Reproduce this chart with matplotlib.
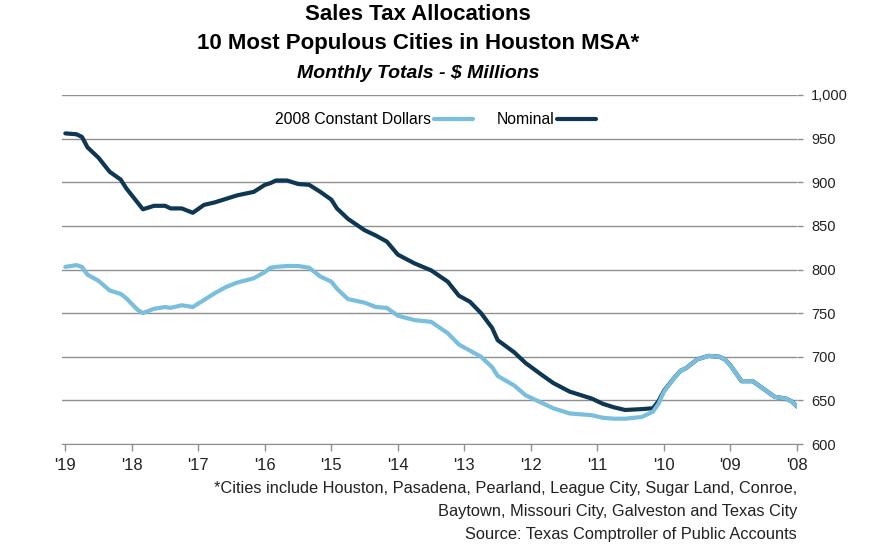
import numpy as np
import pandas as pd
import matplotlib
matplotlib.use("Agg")
import matplotlib.pyplot as plt

# ---------------------------
# data (monthly totals, $ millions)
# ---------------------------
months = [
    "2008-01", "2008-02", "2008-03", "2008-05", "2008-07", "2008-09", "2008-11", "2008-12",
    "2009-01", "2009-02", "2009-03", "2009-05", "2009-07", "2009-09", "2009-10", "2009-11",
    "2010-01", "2010-02", "2010-03", "2010-05", "2010-08", "2010-10", "2010-12",
    "2011-02", "2011-06", "2011-09", "2011-11",
    "2012-02", "2012-04", "2012-07", "2012-08", "2012-10", "2012-12",
    "2013-02", "2013-04", "2013-07", "2013-10",
    "2014-01", "2014-03", "2014-05", "2014-07", "2014-10", "2014-12",
    "2015-01", "2015-03", "2015-05", "2015-07", "2015-09", "2015-11", "2015-12",
    "2016-01", "2016-03", "2016-06", "2016-08", "2016-10", "2016-12",
    "2017-02", "2017-04", "2017-06", "2017-07", "2017-09", "2017-11", "2017-12",
    "2018-02", "2018-03", "2018-05", "2018-07", "2018-09", "2018-10", "2018-11",
    "2019-01",
]
nominal = [
    643, 649, 652, 654, 663, 672, 672, 681,
    690, 697, 700, 701, 697, 687, 684, 677,
    661, 649, 641, 640, 639, 642, 646,
    652, 660, 670, 679,
    693, 705, 719, 733, 750, 763,
    770, 786, 799, 807,
    817, 832, 839, 845, 858, 870,
    880, 889, 897, 898, 902, 902, 899,
    897, 889, 885, 881, 877, 874,
    865, 870, 870, 873, 873, 869, 877,
    893, 903, 912, 928, 940, 952, 955,
    956,
]
constant_2008 = [
    643, 649, 652, 654, 663, 672, 672, 681,
    690, 697, 700, 701, 697, 687, 684, 677,
    660, 646, 637, 631, 629, 629, 630,
    633, 635, 641, 647,
    656, 667, 678, 688, 700, 707,
    714, 727, 740, 742,
    747, 756, 757, 762, 766, 778,
    786, 792, 802, 804, 804, 803, 802,
    797, 790, 785, 780, 773, 765,
    757, 759, 756, 757, 755, 750, 754,
    767, 772, 776, 787, 794, 803, 805,
    803,
]
year_ticks = list(range(2008, 2020))
year_labels = ["'%02d" % (y % 100) for y in year_ticks]
y_ticks = [600, 650, 700, 750, 800, 850, 900, 950, 1000]

dates = pd.to_datetime(months)
x = dates.year + (dates.month - 1) / 12.0

# ---------------------------
# styling
# ---------------------------
navy = "#0e3754"
sky = "#79bedc"
grid_gray = "#8f8f8f"
plt.rcParams["font.family"] = ["Liberation Sans", "DejaVu Sans"]

fig = plt.figure(figsize=(8.69, 5.5), dpi=100)
ax = fig.add_axes([62 / 869, 106 / 550, 735 / 869, 349 / 550])

# nominal first so the constant-dollar line sits on top where they overlap
h_nom, = ax.plot(x, nominal, color=navy, lw=3.0, label="Nominal",
                 solid_capstyle="round")
h_con, = ax.plot(x, constant_2008, color=sky, lw=3.0, label="2008 Constant Dollars",
                 solid_capstyle="round")

# time runs right-to-left, values on the right side
ax.set_xlim(2019.05, 2008.0)
ax.set_ylim(600, 1000)
ax.yaxis.tick_right()
ax.set_yticks(y_ticks)
ax.set_yticklabels(["{:,}".format(v) for v in y_ticks], fontsize=10.5, color="#222222")
ax.tick_params(axis="y", length=4, width=1, color=grid_gray, pad=6)
ax.grid(axis="y", color=grid_gray, lw=1)
ax.set_axisbelow(True)

ax.set_xticks(year_ticks)
ax.set_xticklabels(year_labels, fontsize=12, color="#222222")
ax.tick_params(axis="x", length=5, width=1, color=grid_gray, pad=5)

for side in ["top", "left", "right"]:
    ax.spines[side].set_visible(False)
ax.spines["bottom"].set_color(grid_gray)

leg = ax.legend(handles=[h_con, h_nom], loc="center right",
                bbox_to_anchor=(610 / 869, 1 - 120 / 550),
                bbox_transform=fig.transFigure, ncol=2, frameon=False,
                markerfirst=False, fontsize=11.3, handlelength=2.5,
                handletextpad=0.15, columnspacing=1.5)

# titles
cx = 418 / 869
fig.text(cx, 1 - 14 / 550, "Sales Tax Allocations", ha="center", va="center",
         fontsize=16, fontweight="bold")
fig.text(cx, 1 - 44 / 550, "10 Most Populous Cities in Houston MSA*", ha="center",
         va="center", fontsize=16, fontweight="bold")
fig.text(cx, 1 - 73 / 550, "Monthly Totals - $ Millions", ha="center", va="center",
         fontsize=14, fontweight="bold", style="italic")

# notes
notes = [
    "*Cities include Houston, Pasadena, Pearland, League City, Sugar Land, Conroe,",
    "Baytown, Missouri City, Galveston and Texas City",
    "Source: Texas Comptroller of Public Accounts",
]
for i, line in enumerate(notes):
    fig.text(797 / 869, 1 - (489 + 22.5 * i) / 550, line, ha="right", va="center",
             fontsize=11.8, color="#222222")

fig.savefig("out.png", dpi=100)
